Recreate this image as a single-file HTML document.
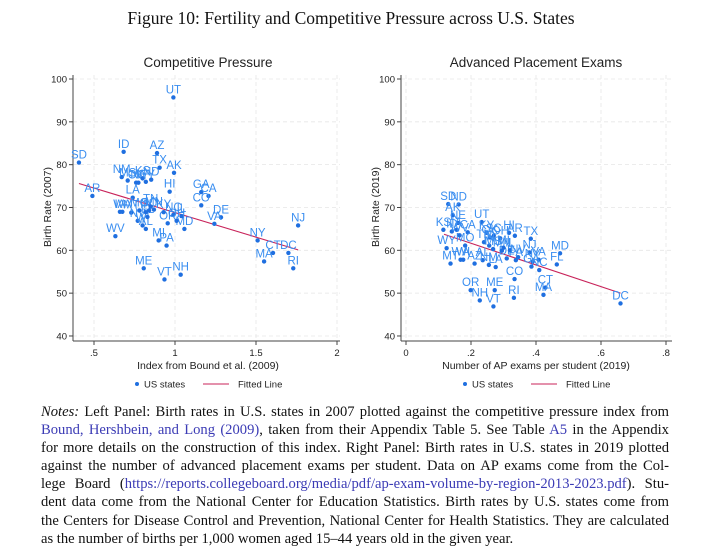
<!DOCTYPE html>
<html><head><meta charset="utf-8">
<style>
body{margin:0;background:#fff;width:702px;height:557px;overflow:hidden;position:relative;font-family:"Liberation Sans",sans-serif}
#title{position:absolute;top:8px;left:0;width:702px;text-align:center;font:17.5px "Liberation Serif",serif;color:#111}
#notes{position:absolute;left:41px;top:403px;width:628px;font:14.6px "Liberation Serif",serif;color:#111}
#notes div{height:18.1px;line-height:18.1px;text-align:justify;text-align-last:justify;white-space:nowrap}
#notes div.last{text-align-last:left}
.lk{color:#3b3bb5}
svg{position:absolute;left:0;top:0}
</style></head><body>
<div id="title">Figure 10: Fertility and Competitive Pressure across U.S. States</div>
<svg id="chart" width="702" height="400"></svg>
<div id="notes">
<div><i>Notes:</i> Left Panel: Birth rates in U.S. states in 2007 plotted against the competitive pressure index from</div>
<div><span class="lk">Bound, Hershbein, and Long (2009)</span>, taken from their Appendix Table 5. See Table <span class="lk">A5</span> in the Appendix</div>
<div>for more details on the construction of this index. Right Panel: Birth rates in U.S. states in 2019 plotted</div>
<div>against the number of advanced placement exams per student. Data on AP exams come from the Col-</div>
<div>lege Board (<span class="lk">https://reports.collegeboard.org/media/pdf/ap-exam-volume-by-region-2013-2023.pdf</span>). Stu-</div>
<div>dent data come from the National Center for Education Statistics. Birth rates by U.S. states come from</div>
<div>the Centers for Disease Control and Prevention, National Center for Health Statistics. They are calculated</div>
<div class="last">as the number of births per 1,000 women aged 15–44 years old in the given year.</div>
</div>
<script>
const leftStates=["UT","ID","AZ","TX","AK","SD","NM","MS","OK","NE","KS","WY","ND","AR","LA","HI","GA","CA","CO","DE","VA","NJ","NY","CT","DC","MA","RI","WV","ME","VT","NH","MI","PA","MD","OR","IA","WA","MT","NV","WI","AL","FL","MO","SC","MN","KY","NC","IL","OH","IN","TN"];
const leftX=[0.99,0.683,0.889,0.905,0.994,0.407,0.671,0.708,0.76,0.774,0.80,0.82,0.853,0.49,0.739,0.967,1.162,1.207,1.162,1.284,1.243,1.76,1.51,1.605,1.70,1.55,1.73,0.632,0.807,0.935,1.035,0.899,0.948,1.058,0.955,0.66,0.675,0.73,0.77,0.80,0.82,0.83,0.78,0.84,0.87,0.93,0.99,1.04,1.01,0.82,0.85];
const leftY=[95.7,83.0,82.7,79.3,78.1,80.5,77.1,76.3,75.8,75.8,76.8,76.0,76.5,72.7,72.3,73.7,73.6,72.7,70.5,67.7,66.2,65.8,62.3,59.4,59.4,57.4,55.8,63.3,55.8,53.2,54.3,62.3,61.1,65.0,66.3,69.0,69.0,68.8,66.9,65.8,65.0,67.8,69.3,69.3,69.5,68.9,68.3,68.0,66.9,68.9,70.2];
const leftFit=[[0.407,75.6],[1.76,60.1]];
const rightStates=["SD","ND","AK","NE","UT","IA","CA","KS","ID","WY","MO","MT","WA","WI","AZ","AL","NM","LA","HI","AR","TX","NJ","MD","FL","VA","NY","NC","GA","CO","CT","MA","RI","ME","OR","NH","VT","DC","KY","OK","SC","TN","IN","MS","OH","DE","MN","PA","IL","MI","NV","WV"];
const rightX=[0.130,0.162,0.144,0.16,0.233,0.156,0.19,0.115,0.141,0.125,0.182,0.137,0.168,0.176,0.211,0.236,0.255,0.276,0.317,0.335,0.384,0.38,0.474,0.464,0.408,0.39,0.41,0.386,0.334,0.429,0.423,0.332,0.273,0.199,0.227,0.269,0.66,0.248,0.258,0.27,0.24,0.256,0.268,0.29,0.31,0.295,0.338,0.32,0.30,0.345,0.165];
const rightY=[70.8,70.7,68.2,66.4,66.6,64.8,64.2,64.8,64.4,60.5,61.1,56.9,57.8,57.8,56.9,57.7,56.6,56.1,64.1,63.4,62.7,59.5,59.3,56.7,57.8,57.4,55.4,56.2,53.3,51.3,49.6,48.9,50.7,50.7,48.3,46.9,47.6,64.1,63.0,63.4,61.9,61.1,60.3,62.8,58.1,59.9,57.7,60.0,60.6,58.4,63.5];
const rightFit=[[0.117,63.75],[0.66,50.0]];
const yTicks=[40,50,60,70,80,90,100];
const leftXTicks=[0.5,1,1.5,2];const leftXLabels=[".5","1","1.5","2"];
const rightXTicks=[0,0.2,0.4,0.6,0.8];const rightXLabels=["0",".2",".4",".6",".8"];

const NS="http://www.w3.org/2000/svg";
const svg=document.getElementById('chart');
function mk(t,a,p){const e=document.createElementNS(NS,t);for(const k in a)e.setAttribute(k,a[k]);(p||svg).appendChild(e);return e;}
function yScale(v){return 79+(100-v)*4.283;}
const AXY=341;
function panel(o){
  const g=mk('g',{});
  
  
  const xs=v=>o.x0+(v-o.v0)*o.k;
  const t=mk('text',{x:o.cx,y:67,'text-anchor':'middle','font-size':'13.5',fill:'#222'},g);t.textContent=o.title;
  
  yTicks.forEach(v=>{const l=mk('line',{x1:o.ax,x2:o.ax2,y1:yScale(v),y2:yScale(v),stroke:'#e6e6e6','stroke-dasharray':'4,3','stroke-width':0.8},g);
    });
  o.xt.forEach(v=>{const l=mk('line',{x1:xs(v),x2:xs(v),y1:75,y2:AXY,stroke:'#e6e6e6','stroke-dasharray':'4,3','stroke-width':0.8},g);
    });
  mk('line',{x1:o.ax,x2:o.ax,y1:75,y2:AXY,stroke:'#444','stroke-width':1},g);
  mk('line',{x1:o.ax,x2:o.ax2,y1:AXY,y2:AXY,stroke:'#444','stroke-width':1},g);
  yTicks.forEach(v=>{mk('line',{x1:o.ax-4,x2:o.ax,y1:yScale(v),y2:yScale(v),stroke:'#444'},g);
    const tt=mk('text',{x:o.ax-6,y:yScale(v)+3.5,'text-anchor':'end','font-size':'9.5',fill:'#222'},g);tt.textContent=v;
    });
  o.xt.forEach((v,i)=>{mk('line',{x1:xs(v),x2:xs(v),y1:AXY,y2:AXY+4,stroke:'#444'},g);
    const tt=mk('text',{x:xs(v),y:356,'text-anchor':'middle','font-size':'9.5',fill:'#222'},g);tt.textContent=o.xl[i];
    });
  const xt=mk('text',{x:o.cx,y:369,'text-anchor':'middle','font-size':'10.5',fill:'#222'},g);xt.textContent=o.xtitle;
  
  const yt=mk('text',{x:0,y:0,transform:`translate(${o.ax-22},207) rotate(-90)`,'text-anchor':'middle','font-size':'10.5',fill:'#222'},g);yt.textContent=o.ytitle;
  
  const f=mk('line',{x1:xs(o.fit[0][0]),y1:yScale(o.fit[0][1]),x2:xs(o.fit[1][0]),y2:yScale(o.fit[1][1]),stroke:'#c8235a','stroke-width':1.1},g);
  
  o.s.forEach((s,i)=>{const px=xs(o.X[i]),py=yScale(o.Y[i]);
    const c=mk('circle',{cx:px,cy:py,r:2.2,fill:'#1f6fe0'},g);
    
    const lt=mk('text',{x:px,y:py-4,'text-anchor':'middle','font-size':'11.5',fill:'#3a8ef0'},g);lt.textContent=s;
    });
  const LY=384;
  const lc=mk('circle',{cx:o.cx-71,cy:LY,r:2,fill:'#1f6fe0'},g);
  const l1=mk('text',{x:o.cx-64,y:LY+3.5,'font-size':'9.5',fill:'#222'},g);l1.textContent='US states';
  
  mk('line',{x1:o.cx-5,x2:o.cx+21,y1:LY,y2:LY,stroke:'#c8235a','stroke-width':1.1},g);
  const l2=mk('text',{x:o.cx+30,y:LY+3.5,'font-size':'9.5',fill:'#222'},g);l2.textContent='Fitted Line';
  
}
panel({name:'left-panel',title:'Competitive Pressure',cx:208,ax:73,ax2:340,x0:94,v0:0.5,k:162,xt:leftXTicks,xl:leftXLabels,
  xtitle:'Index from Bound et al. (2009)',ytitle:'Birth Rate (2007)',s:leftStates,X:leftX,Y:leftY,fit:leftFit});
panel({name:'right-panel',title:'Advanced Placement Exams',cx:536,ax:401,ax2:672,x0:406,v0:0,k:325,xt:rightXTicks,xl:rightXLabels,
  xtitle:'Number of AP exams per student (2019)',ytitle:'Birth Rate (2019)',s:rightStates,X:rightX,Y:rightY,fit:rightFit});
</script>
</body></html>
